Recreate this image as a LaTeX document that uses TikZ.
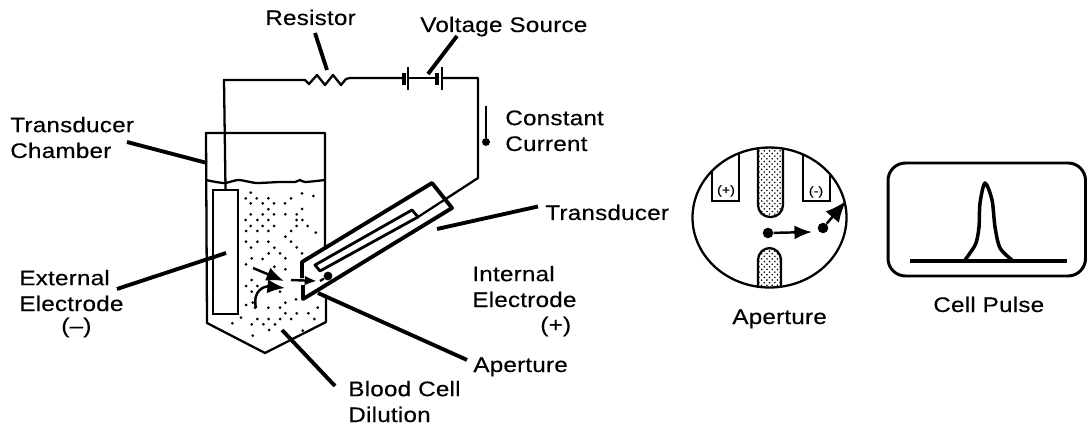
\documentclass[tikz,border=0pt]{standalone}
\usepackage{fontspec}
\setmainfont[FakeStretch=1.15,FakeBold=0.3,LetterSpace=1]{Liberation Sans}
\usetikzlibrary{arrows.meta,patterns}
\begin{document}
\begin{tikzpicture}[
    x=0.02cm, y=-0.02cm,
    label/.style={font=\fontsize{12}{14.7}\selectfont, align=left, anchor=base west, inner sep=0pt},
    wire/.style={draw=black, line width=1.3pt, line join=round},
    leader/.style={draw=black, line width=2.2pt},
    plate/.style={draw=black, line width=1pt},
    flow/.style={draw=black, line width=1.4pt, -{Latex[length=10pt,width=8pt]}},
    celldot/.style={circle, fill=black, inner sep=0pt, minimum size=6pt},
    bar/.style={draw=black, line width=1.3pt, pattern=crosshatch dots, rounded corners=0.24cm}
]
    \useasboundingbox (0,0) rectangle (1087,425);

    % Labels
    \node[label] (reslabel) at (265,25) {Resistor};
    \node[label] (vollabel) at (420,32) {Voltage Source};
    \node[label] (curlabel) at (505,151) {Constant\\Current};
    \node[label] (chamlabel) at (10,158) {Transducer\\Chamber};
    \node[label] (translabel) at (545,220) {Transducer};
    \node[label] (extlabel) at (19,311) {External\\Electrode};
    \node[label] (minuslabel) at (61,333) {(–)};
    \node[label] (intlabel) at (472,307) {Internal\\Electrode};
    \node[label] (pluslabel) at (540,332) {(+)};
    \node[label] (aplabel) at (473,372) {Aperture};
    \node[label] (bloodlabel) at (348,422) {Blood Cell\\Dilution};
    \node[label] (viewlabel) at (732,324) {Aperture};
    \node[label] (pulselabel) at (933,312) {Cell Pulse};

    % Chamber
    \draw[wire] (325,248) -- (325,133) -- (206,133) -- (207,323) -- (265,353) -- (326,322) -- (326,295);
    \draw[wire] plot[smooth] coordinates {(206,180) (224,183) (238,180) (250,182) (258,183) (280,182) (295,182) (300,180) (305,182) (325,180)};
    \node[draw=black, line width=1.3pt, minimum width=0.5cm, minimum height=2.48cm, inner sep=0pt] (extelec) at (225.5,252) {};

    % Circuit
    \coordinate (cornerl) at (224,80);
    \coordinate (resw) at (305,80);
    \coordinate (rese) at (350,78);
    \coordinate (bata) at (404,78);
    \coordinate (batb) at (408,78);
    \coordinate (batc) at (437,78);
    \coordinate (batd) at (442,78);
    \coordinate (cornerr) at (478,78);
    \coordinate (bend) at (478,178);
    \coordinate (intelec) at (418,217);
    \draw[wire] (extelec.north) -- (cornerl) -- (resw) -- ++(4,4) -- ++(8,-9) -- ++(8,10) -- ++(8,-10) -- ++(8,10) -- ++(5,-6) -- (rese) -- (bata);
    \draw[plate, line width=2.2pt] (404,73) -- (404,85);
    \draw[plate] (408,67) -- (408,90);
    \draw[wire, line width=0.9pt] (batb) -- (batc);
    \draw[plate, line width=2.2pt] (437,73) -- (437,85);
    \draw[plate] (442,67) -- (442,90);
    \draw[wire] (batd) -- (cornerr) -- (bend) -- (intelec);

    % Constant current
    \node[celldot, minimum size=4.5pt] (curdot) at (486,142) {};
    \coordinate (curtop) at (486,106);
    \draw[plate] (curtop) -- (curdot);

    % Transducer
    \draw[draw=black, line width=2.2pt, line join=round] (302,278) -- (302,262) -- (432,183) -- (452,208) -- (313,293) -- (303,299) -- (303,285);
    \draw[draw=black, line width=1.6pt, line join=round] (320,271) -- (315,265) -- (412,210) -- (418,217) -- cycle;
    \node[celldot, minimum size=5pt] (intdot) at (328,276) {};
    \coordinate (apin) at (291,280);
    \coordinate (apout) at (317,281);
    \coordinate (dasha) at (320,281);
    \draw[flow, -{Latex[length=7pt,width=5.5pt]}] (apin) -- (apout);
    \draw[draw=black, line width=1.3pt] (dasha) -- (intdot);

    % Flow arrows
    \coordinate (flowa) at (253,268);
    \coordinate (flowb) at (284,281);
    \coordinate (flowc) at (256,308);
    \coordinate (flowd) at (285,288);
    \draw[flow] (flowa) -- (flowb);
    \draw[flow] (flowc) -- ++(-2,-1) (flowc) .. controls (252,290) and (265,286) .. (flowd);

    % Dilution
    \foreach \dx/\dy in {212/68,230/85,197/85,212/100,248/100,265/85,282/100,315/100,333/85,366/70,400/78,265/118,212/133,248/133,282/133,316/133,350/133,366/117,197/150,232/150,265/150,350/150,367/150,212/168,248/168,282/168,198/183,232/183,265/183,333/183,350/168,383/168,316/200,333/215,198/215,232/215,265/215,350/232,213/233,283/233,266/250,300/250,248/267,316/265,366/250,215/265,198/283,283/290,316/298,215/330,198/348,232/348,215/365,300/365,198/405,218/398,348/388,316/398,300/413,265/413,316/430,350/430,385/430,413/413,183/443,232/447,266/447,300/447,333/447,403/447,157/460,215/463,250/463,285/463,267/480,218/497,368/482,407/188}
        \fill ({180+\dx/3},{170+\dy/3}) circle (1.5);

    % Leaders
    \coordinate (resin) at (327,70);
    \coordinate (volin) at (428,74);
    \coordinate (chamin) at (207,163);
    \coordinate (extin) at (226,253);
    \coordinate (transin) at (437,229);
    \coordinate (apin2) at (318,293);
    \coordinate (bloodin) at (282,330);
    \draw[leader] (315,33) -- (resin);
    \draw[leader] (457,36) -- (volin);
    \draw[leader] (127,142) -- (chamin);
    \draw[leader] (117,289) -- (extin);
    \draw[leader] (translabel.west) ++(-7,-6) -- (transin);
    \draw[leader] (aplabel.west) ++(-6,-7) -- (apin2);
    \draw[leader] (335,386) -- (bloodin);

    % Aperture view
    \begin{scope}
        \clip (769.5,217.5) ellipse (77 and 70);
        \draw[plate] (712,140) -- (712,201) -- (739,201) -- (739,140);
        \draw[plate] (803,140) -- (803,201) -- (830,201) -- (830,140);
    \end{scope}
    \draw[wire] (769.5,217.5) ellipse (77 and 70);
    \draw[bar] (758,148) -- (758,217) -- (783,217) -- (783,148);
    \draw[bar] (758,287) -- (758,248) -- (781,248) -- (781,287);
    \node[font=\fontsize{7}{8}\selectfont, inner sep=0pt] (plusterm) at (726,191) {(+)};
    \node[font=\fontsize{7}{8}\selectfont, inner sep=0pt] (minusterm) at (816,192) {(-)};
    \node[celldot] (cella) at (768,233) {};
    \node[celldot] (cellb) at (823,228) {};
    \coordinate (cellaend) at (812,232);
    \coordinate (cellbend) at (846,201);
    \draw[flow] (cella) -- (cellaend);
    \draw[flow, -{Latex[length=12pt,width=10pt]}] (cellb) -- (cellbend);

    % Cell pulse
    \draw[draw=black, line width=1.7pt, rounded corners=0.35cm] (888,163) rectangle (1085.5,276);
    \draw[draw=black, line width=1.9pt] (910,261) -- (1067,261);
    \draw[draw=black, line width=2pt, line join=round] plot[smooth, tension=0.5] coordinates {(965,260) (970,253) (976,243) (979,227) (980,203) (985,183) (992,200) (995,227) (1000,248) (1012,260)};
\end{tikzpicture}
\end{document}
